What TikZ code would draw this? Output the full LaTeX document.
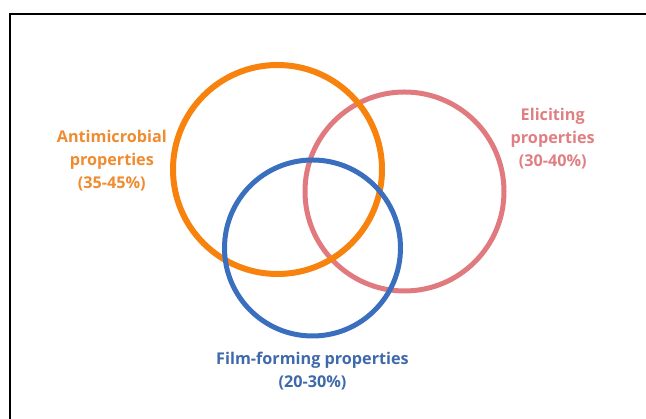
\documentclass[tikz,border=0pt]{standalone}
\usepackage{fontspec}
\setmainfont{Open Sans}
\usepackage{tikz}
\usetikzlibrary{positioning}
\definecolor{antiorange}{HTML}{F7820D}
\definecolor{antitext}{HTML}{EF8B30}
\definecolor{elicitpink}{HTML}{E07A7E}
\definecolor{elicittext}{HTML}{E07F83}
\definecolor{filmblue}{HTML}{3A6FBF}
\definecolor{filmtext}{HTML}{3E69AB}
\tikzstyle{ring}=[draw,circle,inner sep=0pt,fill=none]
\tikzstyle{prop}=[align=center,inner sep=0pt,font=\fontsize{16.2}{23}\selectfont\bfseries]

\begin{document}
\begin{tikzpicture}[x=1pt,y=1pt]
    \useasboundingbox (0,0) rectangle (646,419);

    % moldura (só topo e esquerda aparecem)
    \draw[line width=2.3pt] (9.8,-5) -- (9.8,404.8) -- (660,404.8);

    % os três círculos
    \node[ring,minimum size=199pt,line width=5pt,draw=elicitpink] (elicit) at (404.5,227.5) {};
    \node[ring,minimum size=209pt,line width=6pt,draw=antiorange] (anti) at (277.5,249.5) {};
    \node[ring,minimum size=176pt,line width=5pt,draw=filmblue] (film) at (312.5,171) {};

    % rótulos de cada propriedade
    \node[prop,text=antitext] (antilabel) [left=3pt of anti,yshift=8.5pt] {Antimicrobial\\properties\\(35-45\%)};
    \node[prop,text=elicittext] (elicitlabel) [right=4pt of elicit,yshift=52.5pt] {Eliciting\\properties\\(30-40\%)};
    \node[prop,text=filmtext] (filmlabel) [below=13pt of film] {Film-forming properties\\(20-30\%)};
\end{tikzpicture}
\end{document}
